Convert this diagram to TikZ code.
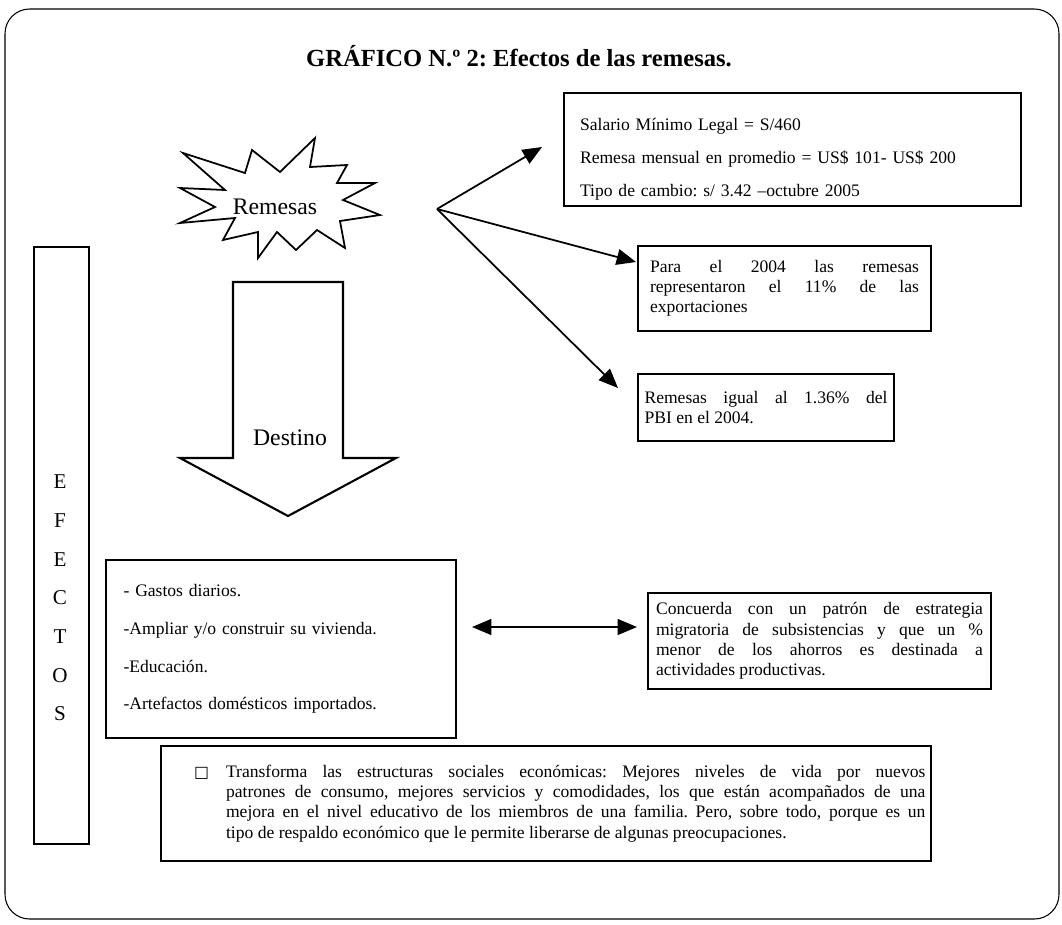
\documentclass[tikz,border=0pt]{standalone}
\usepackage{fontspec}
\setmainfont{Liberation Serif}
\newfontfamily\simbolos{DejaVu Sans}
\usetikzlibrary{arrows.meta}
\hyphenpenalty=10000
\exhyphenpenalty=10000
\frenchspacing

\begin{document}
\begin{tikzpicture}[x=0.02cm, y=-0.02cm, >={Triangle[length=11pt, width=9pt]}, line width=1pt,
        caja/.style={draw, line width=1.2pt, anchor=north west, inner xsep=0.3cm, font=\fontsize{10}{11.5}\selectfont},
        grande/.style={font=\fontsize{13.5}{16}\selectfont}]

    % Marco
    \useasboundingbox (0,0) rectangle (1062,924);
    \draw[line width=0.6pt, rounded corners=14pt] (5,9) rectangle (1059,919);
    \node[font=\bfseries\fontsize{14}{16}\selectfont] (titulo) at (519,56) {GRÁFICO N.º 2: Efectos de las remesas.};

    % Remesas
    \draw[line join=miter] (183,153) -- (245,173) -- (252,150) -- (280,172) -- (315,138) -- (310,167) -- (347,165) -- (337,183) -- (375,183) -- (343,200) -- (380,215) -- (340,221) -- (345,248) -- (317,230) -- (296,250) -- (277,232) -- (258,258) -- (258,232) -- (223,240) -- (235,218) -- (180,223) -- (215,207) -- (180,188) -- (225,190) -- cycle;
    \node[grande] (remesas) at (275,207) {Remesas};

    % Cajas
    \node[caja, minimum width=9.14cm, minimum height=2.26cm, text width=8.5cm, align=left] (salario) at (563,92) {\rule{0pt}{18pt}Salario Mínimo Legal = S/460\\[7.2pt] Remesa mensual en promedio = US\$ 101- US\$ 200\\[7.2pt] Tipo de cambio: s/ 3.42 –octubre 2005};
    \node[caja, inner xsep=0pt, minimum width=5.86cm, minimum height=1.7cm, text width=5.38cm, align=justify] (exportaciones) at (637,245) {Para el 2004 las remesas\linebreak representaron el 11\% de las\linebreak exportaciones};
    \node[caja, inner xsep=0pt, minimum width=5.12cm, minimum height=1.34cm, text width=4.86cm, align=justify] (pbi) at (637,373) {Remesas igual al 1.36\% del\linebreak PBI en el 2004.};

    % Flechas
    \coordinate (abanico) at (437,209);
    \coordinate (f1) at (542,147);
    \coordinate (f2) at (636,262);
    \coordinate (f3) at (618,388);
    \draw[->] (abanico) -- (f1);
    \draw[->] (abanico) -- (f2);
    \draw[->] (abanico) -- (f3);

    % Efectos
    \node[draw, line width=1.2pt, anchor=north west, minimum width=1.1cm, minimum height=11.94cm] (efectos) at (33,246) {};
    \node[font=\fontsize{12}{22}\selectfont, align=center] (letras) at (60,598) {E\\F\\E\\C\\T\\O\\S};

    % Destino
    \draw[line width=1.2pt] (233,282) -- (343,282) -- (343,458) -- (396,458) -- (288,516) -- (180,458) -- (233,458) -- cycle;
    \node[grande] (destino) at (290,438) {Destino};

    % Abajo
    \node[caja, minimum width=7cm, minimum height=3.56cm, text width=6.3cm, align=left] (gastos) at (105,559) {- Gastos diarios.\\[9.9pt] -Ampliar y/o construir su vivienda.\\[9.9pt] -Educación.\\[9.9pt] -Artefactos domésticos importados.};
    \node[caja, inner xsep=0pt, minimum width=6.86cm, minimum height=1.92cm, text width=6.54cm, align=justify] (concuerda) at (647,592) {Concuerda con un patrón de estrategia\linebreak migratoria de subsistencias y que un \%\linebreak menor de los ahorros es destinada a\linebreak actividades productivas.};
    \coordinate (izq) at (472,627);
    \coordinate (der) at (637,627);
    \draw[<->] (izq) -- (der);

    \node[caja, inner xsep=0pt, minimum width=15.4cm, minimum height=2.3cm, text width=15.18cm, align=justify] (transforma) at (160,745) {\hangindent=1.19cm\hangafter=1\hspace*{0.55cm}\makebox[0.64cm][l]{\simbolos\fontsize{9}{10}\selectfont □}Transforma las estructuras sociales económicas: Mejores niveles de vida por nuevos\linebreak patrones de consumo, mejores servicios y comodidades, los que están acompañados de una\linebreak mejora en el nivel educativo de los miembros de una familia. Pero, sobre todo, porque es un\linebreak tipo de respaldo económico que le permite liberarse de algunas preocupaciones.\par};
\end{tikzpicture}
\end{document}
